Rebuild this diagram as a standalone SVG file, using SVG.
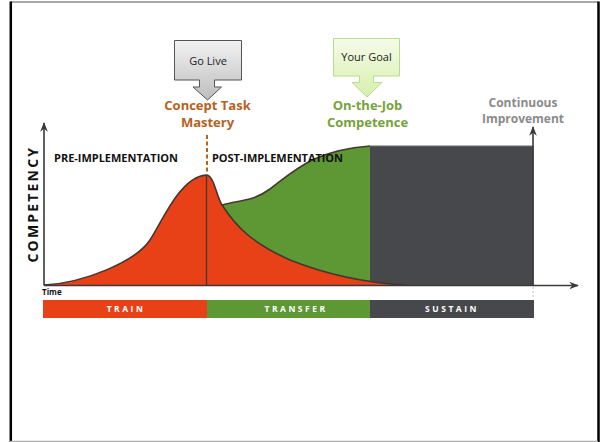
<svg xmlns="http://www.w3.org/2000/svg" width="600" height="442" viewBox="0 0 600 442">
<defs>
<linearGradient id="gGray" x1="0" y1="0" x2="0" y2="1"><stop offset="0" stop-color="#f2f2f2"/><stop offset="1" stop-color="#bdbdbd"/></linearGradient>
<linearGradient id="gGreen" x1="0" y1="0" x2="0" y2="1"><stop offset="0" stop-color="#f6fbe9"/><stop offset="1" stop-color="#d6efae"/></linearGradient>
<marker id="ah" viewBox="0 0 10 10" refX="9" refY="5" markerWidth="6" markerHeight="6" orient="auto-start-reverse"><path d="M0,1 L10,5 L0,9 L3,5 Z" fill="#3a3a3a"/></marker>
<style>
.lbl{font-family:"Open Sans","Liberation Sans",sans-serif;font-weight:bold}
.plain{font-family:"Open Sans","Liberation Sans",sans-serif;font-weight:normal}
.bar{font-family:"Open Sans","Liberation Sans",sans-serif;font-weight:bold;font-size:8.5px;fill:#ffffff;letter-spacing:2.5px}
.axis{stroke:#3a3a3a;stroke-width:1.6;fill:none}
.outline{stroke:#45362e;stroke-width:1.6;fill:none}
</style>
</defs>
<rect width="600" height="442" fill="#ffffff"/>
<g id="frame">
<line x1="10.5" y1="2" x2="598.5" y2="2" stroke="#8a8a8a" stroke-width="1.5"/>
<line x1="10.8" y1="1.5" x2="10.8" y2="442" stroke="#000" stroke-width="2.5"/>
<line x1="598.5" y1="1.5" x2="598.5" y2="442" stroke="#000" stroke-width="2.5"/>
<line x1="10" y1="441.3" x2="598" y2="441.3" stroke="#b0b0b0" stroke-width="1.2"/>
</g>
<g id="sustain-area"><rect x="370" y="146" width="163.5" height="139" fill="#46484b"/><line x1="370" y1="146" x2="533" y2="146" stroke="#6a6c6e" stroke-width="1"/></g>
<g id="transfer-area"><path d="M222,205 C240,200 252,202 270,189 C295,170 315,150 370,146 L370,285 L222,285 Z" fill="#5e9834"/></g>
<g id="train-area"><path d="M44,285 C85,283 136,261 150,240 C162,222 180,177 206,175 C214,175 216,195 222,205 C235,225 250,242 290,260 C330,276 370,283 405,285 Z" fill="#e84118"/></g>
<g id="curves">
<path class="outline" d="M44,285 C85,283 136,261 150,240 C162,222 180,177 206,175 C214,175 216,195 222,205 C235,225 250,242 290,260 C330,276 370,283 405,285"/>
<path class="outline" d="M222,205 C240,200 252,202 270,189 C295,170 315,150 370,146"/>
<line x1="206.5" y1="175" x2="206.5" y2="285" stroke="#45362e" stroke-width="1.3"/>
<line x1="207" y1="135" x2="207" y2="173" stroke="#b5651d" stroke-width="2" stroke-dasharray="4,2.5"/>
</g>
<g id="connectors">
<line class="axis" x1="44" y1="285.5" x2="44" y2="123" marker-end="url(#ah)"/>
<line class="axis" x1="44" y1="285.5" x2="578" y2="285.5" marker-end="url(#ah)"/>
<line class="axis" x1="533" y1="285" x2="533" y2="127" marker-end="url(#ah)"/>
<line x1="533" y1="287" x2="533" y2="298" stroke="#bbbbbb" stroke-width="1" stroke-dasharray="2,2"/>
</g>
<g id="go-live">
<path d="M174.5,40.5 H241.5 V80 H214.5 V87 H221.5 L207.5,100 L193,87 H199.5 V80 H174.5 Z" fill="url(#gGray)" stroke="#555" stroke-width="1"/>
<text class="plain" x="208" y="65" font-size="11" fill="#222" text-anchor="middle">Go Live</text>
</g>
<g id="your-goal">
<path d="M333.5,38.5 H399.5 V76 H373.5 V82.5 H382 L367,97 L352,82.5 H359.5 V76 H333.5 Z" fill="url(#gGreen)" stroke="#b6dc8c" stroke-width="1"/>
<text class="plain" x="366.5" y="61" font-size="11" fill="#222" text-anchor="middle">Your Goal</text>
</g>
<g id="concept-task-mastery">
<text class="lbl" x="207.5" y="110" font-size="13" fill="#b5621c" text-anchor="middle">Concept Task</text>
<text class="lbl" x="207.5" y="127" font-size="13" fill="#b5621c" text-anchor="middle">Mastery</text>
</g>
<g id="on-the-job">
<text class="lbl" x="367.5" y="110" font-size="13" fill="#76a23a" text-anchor="middle">On-the-Job</text>
<text class="lbl" x="367.5" y="127" font-size="13" fill="#76a23a" text-anchor="middle">Competence</text>
</g>
<g id="continuous-improvement">
<text class="lbl" x="523" y="107" font-size="12" fill="#8a8a8a" text-anchor="middle">Continuous</text>
<text class="lbl" x="523" y="123" font-size="12" fill="#8a8a8a" text-anchor="middle">Improvement</text>
</g>
<g id="phase-labels">
<text class="lbl" x="54" y="162" font-size="11" fill="#111" textLength="124">PRE-IMPLEMENTATION</text>
<text class="lbl" x="212" y="162" font-size="11" fill="#111" textLength="131">POST-IMPLEMENTATION</text>
</g>
<g id="axis-labels">
<text class="lbl" x="0" y="0" font-size="14" fill="#111" text-anchor="middle" letter-spacing="2.5" transform="translate(38,204) rotate(-90)" textLength="117">COMPETENCY</text>
<text class="lbl" x="42" y="295" font-size="8" fill="#111">Time</text>
</g>
<g id="phase-bar">
<rect x="43" y="300" width="164" height="18" fill="#e84118"/>
<rect x="207" y="300" width="163" height="18" fill="#5e9834"/>
<rect x="370" y="300" width="164" height="18" fill="#46484b"/>
<text class="bar" x="126" y="312" text-anchor="middle">TRAIN</text>
<text class="bar" x="296" y="312" text-anchor="middle">TRANSFER</text>
<text class="bar" x="452" y="312" text-anchor="middle">SUSTAIN</text>
</g>
</svg>
